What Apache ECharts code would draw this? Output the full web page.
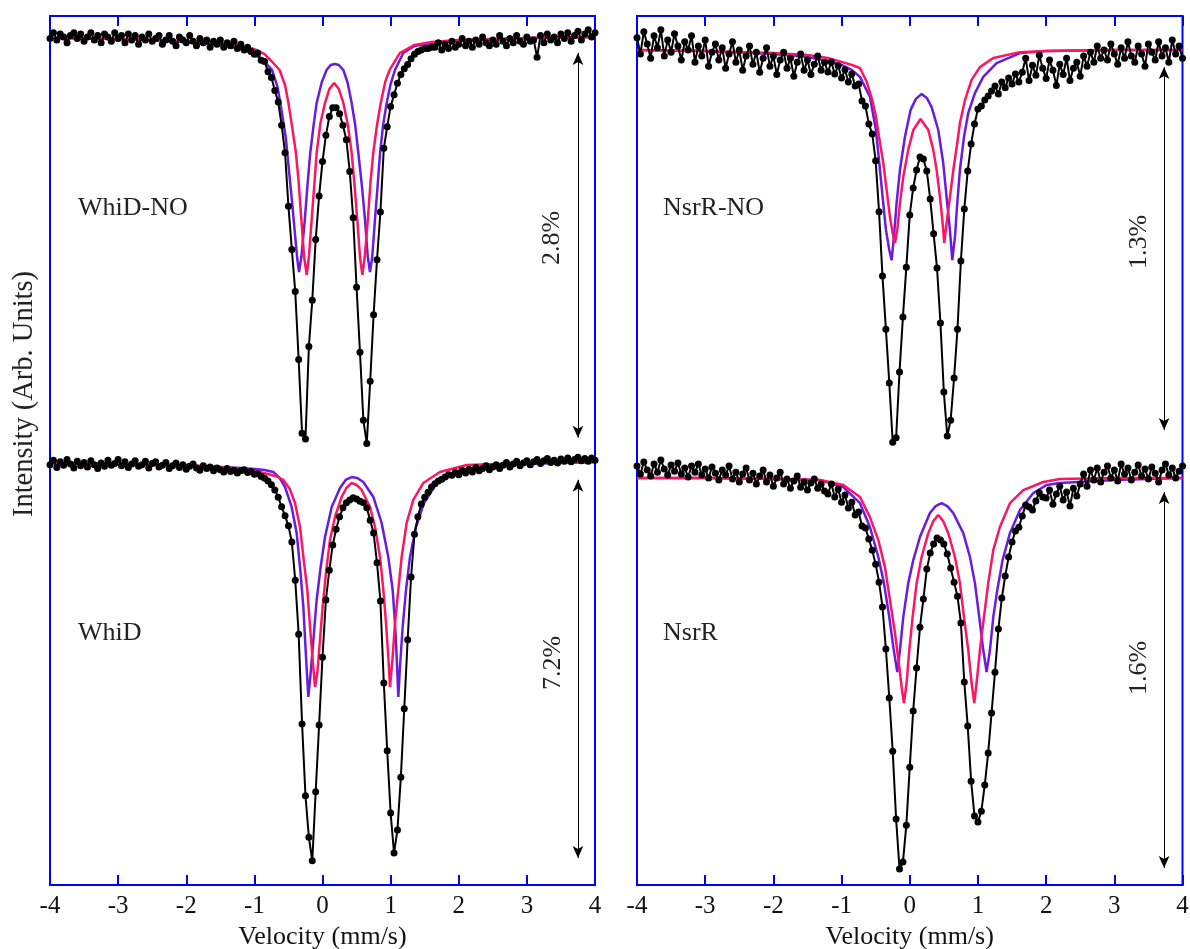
<!DOCTYPE html>
<html>
<head>
<meta charset="utf-8">
<title>Mössbauer spectra</title>
<script src="https://cdn.jsdelivr.net/npm/echarts@6.0.0/dist/echarts.min.js"></script>
<style>
  html, body { margin: 0; padding: 0; background: #fff; }
  #chart { width: 1190px; height: 949px; }
</style>
</head>
<body>
<div id="chart"></div>
<script>
// x ticks (mm/s)
var velocityTicks = [-4, -3, -2, -1, 0, 1, 2, 3, 4];

// absorption relative to baseline (%), [velocity, value]
var whidNoData = [[-4.00,-0.01],[-3.95,0.03],[-3.90,-0.02],[-3.85,0.02],[-3.80,0.00],[-3.75,-0.04],[-3.70,0.01],[-3.65,0.03],[-3.60,-0.01],[-3.55,0.02],[-3.50,-0.03],[-3.45,0.00],[-3.40,0.03],[-3.35,-0.02],[-3.30,0.01],[-3.25,-0.04],[-3.20,0.02],[-3.15,0.00],[-3.10,-0.03],[-3.05,0.03],[-3.00,-0.01],[-2.95,0.01],[-2.90,-0.04],[-2.85,0.02],[-2.80,-0.02],[-2.75,0.01],[-2.70,-0.05],[-2.65,0.00],[-2.60,-0.02],[-2.55,0.02],[-2.50,-0.03],[-2.45,-0.01],[-2.40,0.01],[-2.35,-0.05],[-2.30,-0.02],[-2.25,0.01],[-2.20,-0.03],[-2.15,-0.06],[-2.10,0.00],[-2.05,-0.02],[-2.00,-0.04],[-1.95,0.01],[-1.90,-0.03],[-1.85,-0.06],[-1.80,-0.01],[-1.75,-0.04],[-1.70,-0.02],[-1.65,-0.07],[-1.60,-0.03],[-1.55,-0.05],[-1.50,-0.02],[-1.45,-0.07],[-1.40,-0.04],[-1.35,-0.06],[-1.30,-0.03],[-1.25,-0.08],
  [-1.20,-0.05],[-1.15,-0.09],[-1.10,-0.07],[-1.05,-0.10],[-1.00,-0.12],[-0.95,-0.11],[-0.90,-0.16],[-0.85,-0.17],[-0.80,-0.24],[-0.75,-0.28],[-0.70,-0.37],[-0.65,-0.45],[-0.60,-0.61],[-0.55,-0.80],[-0.50,-1.17],[-0.45,-1.47],[-0.40,-1.76],[-0.35,-2.23],[-0.30,-2.74],[-0.25,-2.78],[-0.20,-2.14],[-0.15,-1.82],[-0.10,-1.40],[-0.05,-1.10],[0.00,-0.86],[0.05,-0.68],[0.10,-0.55],[0.15,-0.49],[0.20,-0.49],[0.25,-0.53],[0.30,-0.61],[0.35,-0.71],[0.40,-0.93],[0.45,-1.25],[0.50,-1.73],[0.55,-2.18],[0.60,-2.65],[0.65,-2.81],[0.70,-2.38],[0.75,-1.92],[0.80,-1.54],[0.85,-1.21],[0.90,-0.77],[0.95,-0.62],[1.00,-0.48],[1.05,-0.40],[1.10,-0.32],[1.15,-0.26],[1.20,-0.22],[1.25,-0.19],[1.30,-0.15],[1.35,-0.12],[1.40,-0.10],[1.45,-0.09],[1.50,-0.08],[1.55,-0.08],[1.60,-0.07],
  [1.65,-0.07],[1.70,-0.04],[1.75,-0.09],[1.80,-0.05],[1.85,-0.08],[1.90,-0.03],[1.95,-0.07],[2.00,-0.05],[2.05,-0.01],[2.10,-0.06],[2.15,-0.03],[2.20,-0.07],[2.25,-0.02],[2.30,-0.05],[2.35,0.00],[2.40,-0.04],[2.45,-0.06],[2.50,-0.02],[2.55,-0.05],[2.60,0.01],[2.65,-0.03],[2.70,-0.06],[2.75,-0.01],[2.80,-0.04],[2.85,0.01],[2.90,-0.03],[2.95,-0.05],[3.00,0.00],[3.05,-0.03],[3.10,-0.02],[3.15,-0.14],[3.20,0.01],[3.25,-0.04],[3.30,0.02],[3.35,-0.02],[3.40,0.00],[3.45,-0.04],[3.50,0.02],[3.55,-0.01],[3.60,0.03],[3.65,-0.03],[3.70,0.01],[3.75,0.04],[3.80,-0.02],[3.85,0.02],[3.90,0.05],[3.95,0.00],[4.00,0.03]];
var whidNoPink = [[-4,-0.007],[-3,-0.014],[-2,-0.028],[-1.5,-0.041],[-1.2,-0.062],[-1.0,-0.083],[-0.85,-0.118],[-0.75,-0.166],[-0.63,-0.228],[-0.55,-0.332],[-0.50,-0.456],[-0.45,-0.608],[-0.39,-0.802],[-0.35,-1.002],[-0.31,-1.265],[-0.27,-1.521],[-0.232,-1.645],[-0.20,-1.521],[-0.159,-1.265],[-0.12,-1.023],[-0.086,-0.802],[-0.03,-0.595],[0.037,-0.456],[0.10,-0.360],[0.17,-0.318],[0.24,-0.360],[0.306,-0.456],[0.37,-0.601],[0.428,-0.802],[0.47,-1.023],[0.511,-1.265],[0.55,-1.521],[0.585,-1.645],[0.62,-1.521],[0.665,-1.265],[0.705,-1.002],[0.745,-0.802],[0.80,-0.608],[0.855,-0.456],[0.92,-0.311],[0.985,-0.228],[1.135,-0.111],[1.35,-0.055],[1.6,-0.035],[2.0,-0.021],[3.0,-0.007],[4.0,0]];
var whidNoPurple = [[-4,-0.007],[-3,-0.014],[-2,-0.035],[-1.5,-0.055],[-1.2,-0.083],[-1.0,-0.118],[-0.85,-0.173],[-0.74,-0.228],[-0.66,-0.346],[-0.60,-0.512],[-0.54,-0.691],[-0.49,-0.933],[-0.44,-1.175],[-0.40,-1.383],[-0.37,-1.535],[-0.345,-1.625],[-0.31,-1.521],[-0.26,-1.265],[-0.22,-1.023],[-0.18,-0.802],[-0.13,-0.608],[-0.086,-0.456],[-0.01,-0.311],[0.06,-0.228],[0.12,-0.194],[0.18,-0.187],[0.24,-0.194],[0.306,-0.228],[0.37,-0.318],[0.428,-0.456],[0.48,-0.608],[0.526,-0.802],[0.58,-1.037],[0.624,-1.265],[0.665,-1.521],[0.697,-1.625],[0.73,-1.521],[0.77,-1.265],[0.81,-1.023],[0.845,-0.802],[0.89,-0.608],[0.942,-0.456],[1.0,-0.325],[1.064,-0.228],[1.186,-0.111],[1.35,-0.062],[1.6,-0.041],[2.0,-0.028],[3.0,-0.007],[4.0,0]];

var whidData = [[-4.00,-0.03],[-3.95,0.05],[-3.90,-0.08],[-3.85,0.02],[-3.80,-0.04],[-3.75,0.06],[-3.70,-0.02],[-3.65,-0.09],[-3.60,0.03],[-3.55,-0.05],[-3.50,0.01],[-3.45,-0.07],[-3.40,0.04],[-3.35,-0.03],[-3.30,-0.10],[-3.25,0.00],[-3.20,-0.06],[-3.15,0.05],[-3.10,-0.04],[-3.05,-0.01],[-3.00,0.06],[-2.95,-0.05],[-2.90,0.02],[-2.85,-0.08],[-2.80,-0.02],[-2.75,0.04],[-2.70,-0.06],[-2.65,-0.03],[-2.60,0.03],[-2.55,-0.09],[-2.50,-0.01],[-2.45,0.02],[-2.40,-0.07],[-2.35,-0.04],[-2.30,0.01],[-2.25,-0.10],[-2.20,-0.05],[-2.15,0.00],[-2.10,-0.08],[-2.05,-0.03],[-2.00,-0.11],[-1.95,-0.06],[-1.90,-0.02],[-1.85,-0.09],[-1.80,-0.13],[-1.75,-0.05],[-1.70,-0.10],[-1.65,-0.07],[-1.60,-0.14],[-1.55,-0.09],[-1.50,-0.12],[-1.45,-0.16],[-1.40,-0.10],[-1.35,-0.15],[-1.30,-0.13],[-1.25,-0.18],
  [-1.20,-0.14],[-1.15,-0.12],[-1.10,-0.17],[-1.05,-0.15],[-1.00,-0.20],[-0.95,-0.19],[-0.90,-0.24],[-0.85,-0.27],[-0.80,-0.32],[-0.75,-0.39],[-0.70,-0.48],[-0.65,-0.61],[-0.60,-0.78],[-0.55,-0.94],[-0.50,-1.12],[-0.45,-1.41],[-0.40,-2.09],[-0.35,-3.05],[-0.30,-4.65],[-0.25,-5.93],[-0.20,-6.67],[-0.15,-7.09],[-0.10,-5.86],[-0.05,-4.67],[0.00,-3.46],[0.05,-2.44],[0.10,-1.91],[0.15,-1.46],[0.20,-1.18],[0.25,-0.96],[0.30,-0.80],[0.35,-0.71],[0.40,-0.66],[0.45,-0.62],[0.50,-0.64],[0.55,-0.68],[0.60,-0.71],[0.65,-0.80],[0.70,-1.02],[0.75,-1.25],[0.80,-1.78],[0.85,-2.46],[0.90,-3.92],[0.95,-5.13],[1.00,-6.24],[1.05,-6.95],[1.10,-6.54],[1.15,-5.60],[1.20,-4.38],[1.25,-3.15],[1.30,-2.03],[1.35,-1.27],[1.40,-0.96],[1.45,-0.73],[1.50,-0.61],[1.55,-0.52],[1.60,-0.43],[1.65,-0.37],[1.70,-0.32],[1.75,-0.29],[1.80,-0.25],[1.85,-0.21],
  [1.90,-0.22],[1.95,-0.17],[2.00,-0.21],[2.05,-0.13],[2.10,-0.18],[2.15,-0.11],[2.20,-0.16],[2.25,-0.08],[2.30,-0.14],[2.35,-0.10],[2.40,-0.05],[2.45,-0.12],[2.50,-0.07],[2.55,-0.03],[2.60,-0.10],[2.65,-0.04],[2.70,0.01],[2.75,-0.07],[2.80,-0.02],[2.85,0.03],[2.90,-0.05],[2.95,0.00],[3.00,0.04],[3.05,-0.03],[3.10,0.02],[3.15,0.06],[3.20,-0.01],[3.25,0.04],[3.30,0.08],[3.35,0.01],[3.40,0.05],[3.45,0.00],[3.50,0.07],[3.55,0.03],[3.60,0.09],[3.65,0.02],[3.70,0.06],[3.75,0.10],[3.80,0.04],[3.85,0.08],[3.90,0.03],[3.95,0.09],[4.00,0.05]];
var whidPink = [[-4,0],[-3,-0.018],[-2,-0.036],[-1.5,-0.071],[-1.2,-0.107],[-1.0,-0.143],[-0.8,-0.196],[-0.65,-0.250],[-0.575,-0.303],[-0.48,-0.463],[-0.404,-0.713],[-0.33,-1.141],[-0.281,-1.675],[-0.223,-2.263],[-0.183,-2.923],[-0.144,-3.511],[-0.110,-3.992],[-0.076,-3.743],[-0.037,-3.155],[0.002,-2.566],[0.051,-1.960],[0.110,-1.372],[0.183,-0.962],[0.281,-0.606],[0.35,-0.446],[0.428,-0.356],[0.50,-0.392],[0.575,-0.481],[0.697,-0.784],[0.771,-1.141],[0.844,-1.675],[0.893,-2.263],[0.932,-2.852],[0.966,-3.457],[0.991,-3.992],[1.030,-3.457],[1.064,-2.852],[1.113,-2.263],[1.162,-1.675],[1.235,-1.069],[1.333,-0.659],[1.48,-0.356],[1.724,-0.160],[2.116,-0.036],[3,0],[4,0.018]];
var whidPurple = [[-4,0],[-3,-0.018],[-2,-0.053],[-1.5,-0.071],[-1.2,-0.089],[-1.0,-0.107],[-0.85,-0.125],[-0.722,-0.160],[-0.63,-0.267],[-0.55,-0.428],[-0.453,-0.784],[-0.379,-1.248],[-0.330,-1.853],[-0.281,-2.566],[-0.242,-3.457],[-0.208,-4.170],[-0.174,-3.743],[-0.134,-3.155],[-0.086,-2.442],[-0.027,-1.853],[0.037,-1.319],[0.135,-0.784],[0.257,-0.446],[0.34,-0.303],[0.428,-0.250],[0.51,-0.267],[0.599,-0.339],[0.746,-0.606],[0.868,-1.069],[0.966,-1.675],[1.030,-2.263],[1.064,-2.852],[1.089,-3.457],[1.113,-4.170],[1.137,-3.636],[1.177,-2.923],[1.226,-2.263],[1.284,-1.675],[1.372,-1.141],[1.490,-0.713],[1.676,-0.356],[2.018,-0.125],[2.5,-0.053],[3,-0.018],[4,0.018]];

var nsrrNoData = [[-4.00,0.040],[-3.95,-0.013],[-3.90,0.060],[-3.85,0.020],[-3.80,-0.027],[-3.75,0.047],[-3.70,0.007],[-3.65,0.066],[-3.60,-0.020],[-3.55,0.033],[-3.50,-0.007],[-3.45,0.053],[-3.40,0.013],[-3.35,-0.033],[-3.30,0.027],[-3.25,0.000],[-3.20,0.047],[-3.15,-0.040],[-3.10,0.013],[-3.05,-0.020],[-3.00,0.033],[-2.95,-0.053],[-2.90,-0.007],[-2.85,0.020],[-2.80,-0.033],[-2.75,0.007],[-2.70,-0.060],[-2.65,-0.013],[-2.60,0.027],[-2.55,-0.040],[-2.50,0.000],[-2.45,-0.066],[-2.40,-0.020],[-2.35,0.013],[-2.30,-0.047],[-2.25,-0.007],[-2.20,-0.073],[-2.15,-0.027],[-2.10,0.007],[-2.05,-0.053],[-2.00,-0.020],[-1.95,-0.080],[-1.90,-0.033],[-1.85,-0.007],[-1.80,-0.060],[-1.75,-0.027],[-1.70,-0.086],[-1.65,-0.040],[-1.60,-0.013],[-1.55,-0.066],[-1.50,-0.033],[-1.45,-0.080],[-1.40,-0.047],[-1.35,-0.020],[-1.30,-0.066],[-1.25,-0.040],
  [-1.20,-0.072],[-1.15,-0.039],[-1.10,-0.079],[-1.05,-0.052],[-1.00,-0.092],[-0.95,-0.065],[-0.90,-0.105],[-0.85,-0.079],[-0.80,-0.118],[-0.75,-0.111],[-0.70,-0.167],[-0.65,-0.183],[-0.60,-0.242],[-0.55,-0.275],[-0.50,-0.363],[-0.45,-0.530],[-0.40,-0.740],[-0.35,-0.914],[-0.30,-1.090],[-0.25,-1.284],[-0.20,-1.270],[-0.15,-1.054],[-0.10,-0.874],[-0.05,-0.711],[0.00,-0.540],[0.05,-0.452],[0.10,-0.393],[0.15,-0.350],[0.20,-0.357],[0.25,-0.396],[0.30,-0.488],[0.35,-0.602],[0.40,-0.714],[0.45,-0.894],[0.50,-1.120],[0.55,-1.264],[0.60,-1.212],[0.65,-1.074],[0.70,-0.914],[0.75,-0.691],[0.80,-0.521],[0.85,-0.396],[0.90,-0.308],[0.95,-0.242],[1.00,-0.193],[1.05,-0.183],[1.10,-0.164],[1.15,-0.151],[1.20,-0.134],[1.25,-0.118],[1.30,-0.144],[1.35,-0.105],[1.40,-0.124],[1.45,-0.092],[1.50,-0.111],[1.55,-0.079],[1.60,-0.105],
  [1.65,-0.073],[1.70,-0.027],[1.75,-0.100],[1.80,-0.050],[1.85,-0.083],[1.90,-0.017],[1.95,-0.060],[2.00,-0.093],[2.05,-0.033],[2.10,-0.066],[2.15,-0.116],[2.20,-0.047],[2.25,-0.080],[2.30,-0.027],[2.35,-0.100],[2.40,-0.060],[2.45,-0.040],[2.50,-0.086],[2.55,-0.020],[2.60,-0.053],[2.65,-0.007],[2.70,-0.040],[2.75,0.013],[2.80,-0.027],[2.85,0.000],[2.90,-0.033],[2.95,0.020],[3.00,-0.013],[3.05,-0.047],[3.10,0.007],[3.15,-0.027],[3.20,0.027],[3.25,-0.020],[3.30,-0.040],[3.35,0.013],[3.40,-0.013],[3.45,-0.053],[3.50,0.020],[3.55,-0.007],[3.60,-0.033],[3.65,0.027],[3.70,-0.020],[3.75,0.007],[3.80,-0.040],[3.85,0.033],[3.90,-0.013],[3.95,0.013],[4.00,-0.027]];
var nsrrNoPink = [[-4,0],[-3,-0.003],[-2,-0.010],[-1.5,-0.016],[-1.2,-0.026],[-1.0,-0.039],[-0.85,-0.049],[-0.73,-0.059],[-0.63,-0.105],[-0.55,-0.164],[-0.50,-0.213],[-0.45,-0.285],[-0.388,-0.370],[-0.339,-0.458],[-0.290,-0.547],[-0.251,-0.599],[-0.217,-0.632],[-0.183,-0.589],[-0.144,-0.501],[-0.095,-0.416],[-0.022,-0.327],[0.052,-0.262],[0.159,-0.226],[0.272,-0.262],[0.345,-0.327],[0.394,-0.393],[0.443,-0.481],[0.482,-0.566],[0.506,-0.632],[0.541,-0.566],[0.590,-0.481],[0.639,-0.393],[0.688,-0.318],[0.736,-0.239],[0.810,-0.164],[0.907,-0.098],[1.029,-0.056],[1.225,-0.026],[1.616,-0.007],[2,-0.003],[3,0],[4,0]];
var nsrrNoPurple = [[-4,0],[-3,-0.003],[-2,-0.013],[-1.5,-0.023],[-1.2,-0.036],[-1.0,-0.049],[-0.85,-0.065],[-0.73,-0.088],[-0.583,-0.154],[-0.496,-0.262],[-0.447,-0.370],[-0.398,-0.481],[-0.349,-0.589],[-0.300,-0.655],[-0.266,-0.688],[-0.232,-0.612],[-0.193,-0.501],[-0.144,-0.393],[-0.071,-0.285],[0.013,-0.196],[0.09,-0.160],[0.174,-0.144],[0.25,-0.157],[0.321,-0.187],[0.418,-0.262],[0.491,-0.370],[0.540,-0.481],[0.589,-0.589],[0.624,-0.688],[0.663,-0.612],[0.697,-0.501],[0.736,-0.393],[0.795,-0.285],[0.858,-0.206],[0.956,-0.141],[1.078,-0.088],[1.273,-0.043],[1.616,-0.010],[2,-0.003],[3,0],[4,0]];

var nsrrData = [[-4.00,0.049],[-3.95,0.016],[-3.90,0.065],[-3.85,0.033],[-3.80,0.008],[-3.75,0.057],[-3.70,0.024],[-3.65,0.073],[-3.60,0.037],[-3.55,0.012],[-3.50,0.053],[-3.45,0.028],[-3.40,0.061],[-3.35,0.016],[-3.30,0.041],[-3.25,0.004],[-3.20,0.049],[-3.15,0.024],[-3.10,0.057],[-3.05,0.012],[-3.00,0.037],[-2.95,0.000],[-2.90,0.045],[-2.85,0.020],[-2.80,-0.008],[-2.75,0.033],[-2.70,0.012],[-2.65,0.049],[-2.60,-0.004],[-2.55,0.024],[-2.50,-0.016],[-2.45,0.016],[-2.40,0.041],[-2.35,-0.008],[-2.30,0.020],[-2.25,-0.024],[-2.20,0.008],[-2.15,0.033],[-2.10,-0.016],[-2.05,0.012],[-2.00,-0.033],[-1.95,0.000],[-1.90,0.024],[-1.85,-0.024],[-1.80,-0.004],[-1.75,-0.041],[-1.70,-0.012],[-1.65,0.008],[-1.60,-0.037],[-1.55,-0.016],[-1.50,-0.049],[-1.45,-0.020],[-1.40,-0.004],[-1.35,-0.041],[-1.30,-0.024],[-1.25,-0.053],
  [-1.20,-0.065],[-1.15,-0.024],[-1.10,-0.077],[-1.05,-0.045],[-1.00,-0.098],[-0.95,-0.069],[-0.90,-0.122],[-0.85,-0.098],[-0.80,-0.150],[-0.75,-0.138],[-0.70,-0.195],[-0.65,-0.203],[-0.60,-0.248],[-0.55,-0.293],[-0.50,-0.350],[-0.45,-0.423],[-0.40,-0.524],[-0.35,-0.695],[-0.30,-0.894],[-0.25,-1.110],[-0.20,-1.386],[-0.15,-1.589],[-0.10,-1.561],[-0.05,-1.411],[0.00,-1.175],[0.05,-0.947],[0.10,-0.772],[0.15,-0.606],[0.20,-0.492],[0.25,-0.370],[0.30,-0.305],[0.35,-0.268],[0.40,-0.244],[0.45,-0.252],[0.50,-0.268],[0.55,-0.309],[0.60,-0.366],[0.65,-0.423],[0.70,-0.480],[0.75,-0.589],[0.80,-0.829],[0.85,-1.008],[0.90,-1.232],[0.95,-1.374],[1.00,-1.398],[1.05,-1.354],[1.10,-1.248],[1.15,-1.118],[1.20,-0.955],[1.25,-0.789],[1.30,-0.614],[1.35,-0.488],[1.40,-0.398],[1.45,-0.321],[1.50,-0.260],[1.55,-0.215],[1.60,-0.200],[1.65,-0.154],[1.70,-0.110],[1.75,-0.118],[1.80,-0.130],[1.85,-0.093],[1.90,-0.060],[1.95,-0.077],
  [2.00,-0.081],[2.05,-0.049],[2.10,-0.106],[2.15,-0.065],[2.20,-0.033],[2.25,-0.089],[2.30,-0.057],[2.35,-0.114],[2.40,-0.041],[2.45,-0.073],[2.50,-0.024],[2.55,0.016],[2.60,-0.033],[2.65,0.033],[2.70,-0.008],[2.75,0.041],[2.80,-0.016],[2.85,0.024],[2.90,0.049],[2.95,0.000],[3.00,0.033],[3.05,-0.012],[3.10,0.057],[3.15,0.016],[3.20,0.041],[3.25,-0.008],[3.30,0.024],[3.35,0.053],[3.40,0.008],[3.45,0.037],[3.50,-0.004],[3.55,0.045],[3.60,0.020],[3.65,-0.016],[3.70,0.033],[3.75,0.057],[3.80,0.012],[3.85,0.041],[3.90,0.000],[3.95,0.028],[4.00,0.049]];
var nsrrPink = [[-4,0],[-3,0],[-2,-0.004],[-1.317,-0.008],[-0.975,-0.028],[-0.730,-0.077],[-0.584,-0.159],[-0.461,-0.252],[-0.364,-0.362],[-0.290,-0.496],[-0.217,-0.630],[-0.153,-0.768],[-0.114,-0.862],[-0.085,-0.915],[-0.046,-0.833],[-0.007,-0.699],[0.042,-0.565],[0.101,-0.427],[0.174,-0.321],[0.272,-0.224],[0.345,-0.175],[0.418,-0.150],[0.49,-0.175],[0.565,-0.224],[0.663,-0.321],[0.736,-0.427],[0.795,-0.565],[0.858,-0.699],[0.907,-0.833],[0.946,-0.915],[0.980,-0.833],[1.029,-0.699],[1.088,-0.565],[1.151,-0.427],[1.225,-0.293],[1.322,-0.199],[1.469,-0.102],[1.665,-0.049],[1.958,-0.016],[2.202,-0.004],[3,0],[4,0]];
var nsrrPurple = [[-4,0],[-3,0],[-2,-0.004],[-1.317,-0.008],[-0.975,-0.037],[-0.730,-0.102],[-0.584,-0.199],[-0.461,-0.321],[-0.378,-0.427],[-0.300,-0.565],[-0.241,-0.687],[-0.183,-0.789],[-0.144,-0.699],[-0.095,-0.565],[-0.022,-0.427],[0.052,-0.333],[0.149,-0.240],[0.296,-0.142],[0.38,-0.114],[0.467,-0.102],[0.55,-0.114],[0.638,-0.142],[0.785,-0.224],[0.883,-0.321],[0.956,-0.427],[1.019,-0.565],[1.078,-0.699],[1.127,-0.789],[1.176,-0.699],[1.225,-0.565],[1.284,-0.455],[1.362,-0.333],[1.469,-0.224],[1.616,-0.130],[1.812,-0.061],[2.007,-0.028],[2.202,-0.020],[3,-0.008],[4,0]];

// total absorption of each spectrum (%) shown by the arrows
var depthLabels = ["2.8%", "7.2%", "1.3%", "1.6%"];
var sampleNames = ["WhiD-NO", "WhiD", "NsrR-NO", "NsrR"];

var serifFont = "'Liberation Serif', 'Times New Roman', serif";
var frameBlue = "#0000ff";
var pinkColor = "#ff1464";
var purpleColor = "#6a1be0";

var chart = echarts.init(document.getElementById("chart"));

function bottomAxis(gridIndex, withName) {
  return {
    type: "value",
    gridIndex: gridIndex,
    position: "bottom",
    min: velocityTicks[0],
    max: velocityTicks[velocityTicks.length - 1],
    interval: 1,
    name: withName ? "Velocity (mm/s)" : "",
    nameLocation: "middle",
    nameGap: 36,
    nameTextStyle: { fontFamily: serifFont, fontSize: 26, color: "#111" },
    axisLine: { show: true, onZero: false, lineStyle: { color: frameBlue, width: 2 } },
    axisTick: { show: true, inside: true, length: 10, lineStyle: { color: frameBlue, width: 2 } },
    axisLabel: {
      show: true, margin: 9, color: "#111", fontFamily: serifFont, fontSize: 25,
      showMinLabel: true, showMaxLabel: true
    },
    splitLine: { show: false }
  };
}

function topAxis(gridIndex) {
  return {
    type: "value",
    gridIndex: gridIndex,
    position: "top",
    min: velocityTicks[0],
    max: velocityTicks[velocityTicks.length - 1],
    interval: 1,
    axisLine: { show: true, onZero: false, lineStyle: { color: frameBlue, width: 2 } },
    axisTick: { show: true, inside: true, length: 10, lineStyle: { color: frameBlue, width: 2 } },
    axisLabel: { show: false },
    splitLine: { show: false }
  };
}

function hiddenY(gridIndex, min, max) {
  return { type: "value", gridIndex: gridIndex, min: min, max: max, show: false, splitLine: { show: false } };
}

function fitSeries(data, color, xi, yi) {
  return {
    type: "line",
    xAxisIndex: xi,
    yAxisIndex: yi,
    data: data,
    showSymbol: false,
    silent: true,
    z: 2,
    lineStyle: { color: color, width: 2.5 },
    animation: false
  };
}

function spectrumSeries(data, xi, yi, arrowX, arrowTop, arrowBottom) {
  return {
    type: "line",
    xAxisIndex: xi,
    yAxisIndex: yi,
    data: data,
    symbol: "circle",
    symbolSize: 7,
    showSymbol: true,
    showAllSymbol: true,
    silent: true,
    z: 3,
    lineStyle: { color: "#000", width: 2 },
    itemStyle: { color: "#000" },
    animation: false,
    markLine: {
      silent: true,
      animation: false,
      symbol: ["arrow", "arrow"],
      symbolSize: [8, 12],
      label: { show: false },
      lineStyle: { color: "#000", width: 1, type: "solid" },
      data: [[{ coord: [arrowX, arrowTop] }, { coord: [arrowX, arrowBottom] }]]
    }
  };
}

var option = {
  animation: false,
  backgroundColor: "#fff",
  grid: [
    { left: 50, top: 16, width: 545, height: 869, show: true, borderColor: frameBlue, borderWidth: 2, containLabel: false, outerBoundsMode: "none" },
    { left: 637, top: 16, width: 545.5, height: 869, show: true, borderColor: frameBlue, borderWidth: 2, containLabel: false, outerBoundsMode: "none" }
  ],
  xAxis: [bottomAxis(0, true), topAxis(0), bottomAxis(1, true), topAxis(1)],
  yAxis: [
    hiddenY(0, -5.863, 0.1452),
    hiddenY(0, -7.521, 7.966),
    hiddenY(1, -2.734, 0.1113),
    hiddenY(1, -1.654, 1.878)
  ],
  series: [
    fitSeries(whidNoPurple, purpleColor, 0, 0),
    fitSeries(whidNoPink, pinkColor, 0, 0),
    spectrumSeries(whidNoData, 0, 0, 3.75, -0.11, -2.77),
    fitSeries(whidPurple, purpleColor, 0, 1),
    fitSeries(whidPink, pinkColor, 0, 1),
    spectrumSeries(whidData, 0, 1, 3.75, -0.30, -7.04),
    fitSeries(nsrrNoPurple, purpleColor, 2, 2),
    fitSeries(nsrrNoPink, pinkColor, 2, 2),
    spectrumSeries(nsrrNoData, 2, 2, 3.73, -0.056, -1.244),
    fitSeries(nsrrPurple, purpleColor, 2, 3),
    fitSeries(nsrrPink, pinkColor, 2, 3),
    spectrumSeries(nsrrData, 2, 3, 3.73, -0.057, -1.585)
  ],
  graphic: [
    { type: "text", x: 78, y: 208, style: { text: sampleNames[0], font: "26px " + serifFont, fill: "#222", textAlign: "left", textVerticalAlign: "middle" } },
    { type: "text", x: 78, y: 633, style: { text: sampleNames[1], font: "26px " + serifFont, fill: "#222", textAlign: "left", textVerticalAlign: "middle" } },
    { type: "text", x: 663, y: 208, style: { text: sampleNames[2], font: "26px " + serifFont, fill: "#222", textAlign: "left", textVerticalAlign: "middle" } },
    { type: "text", x: 663, y: 633, style: { text: sampleNames[3], font: "26px " + serifFont, fill: "#222", textAlign: "left", textVerticalAlign: "middle" } },
    { type: "text", x: 552, y: 238, rotation: Math.PI / 2, style: { text: depthLabels[0], font: "26px " + serifFont, fill: "#222", textAlign: "center", textVerticalAlign: "middle" } },
    { type: "text", x: 553, y: 663, rotation: Math.PI / 2, style: { text: depthLabels[1], font: "26px " + serifFont, fill: "#222", textAlign: "center", textVerticalAlign: "middle" } },
    { type: "text", x: 1139, y: 242, rotation: Math.PI / 2, style: { text: depthLabels[2], font: "26px " + serifFont, fill: "#222", textAlign: "center", textVerticalAlign: "middle" } },
    { type: "text", x: 1139, y: 668, rotation: Math.PI / 2, style: { text: depthLabels[3], font: "26px " + serifFont, fill: "#222", textAlign: "center", textVerticalAlign: "middle" } },
    { type: "text", x: 25, y: 394, rotation: Math.PI / 2, style: { text: "Intensity (Arb. Units)", font: "28.5px " + serifFont, fill: "#222", textAlign: "center", textVerticalAlign: "middle" } }
  ]
};

chart.setOption(option);
</script>
</body>
</html>
